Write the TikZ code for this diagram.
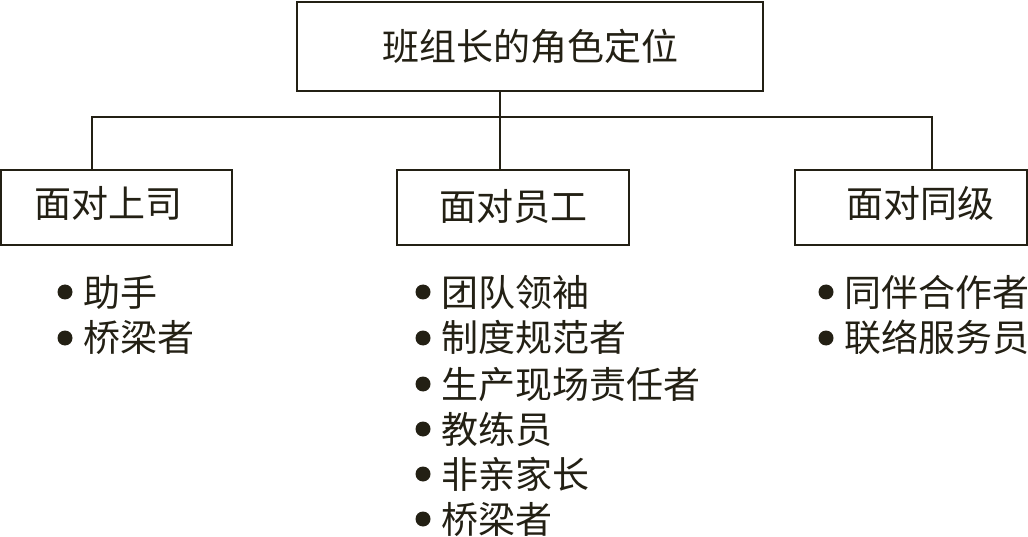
\documentclass[tikz,border=0pt]{standalone}
\usepackage{fontspec}
\newfontfamily\cjk{Noto Sans CJK SC}
\definecolor{ink}{RGB}{35,32,20}
\begin{document}
\begin{tikzpicture}[x=1pt,y=-1pt,
  every node/.style={font=\cjk\fontsize{37}{44}\selectfont, text=ink},
  box/.style={draw=ink, line width=2.6pt, inner sep=0pt, outer sep=0pt,
    text height=0.88em, text depth=0.12em},
  link/.style={draw=ink, line width=2.6pt},
  dot/.style={circle, fill=ink, inner sep=0pt, minimum size=15pt},
  item/.style={anchor=base west, inner sep=0pt}]
\useasboundingbox (0,0) rectangle (1028,537);
% boxes
\node[box, minimum width=466pt, minimum height=89pt] (top) at (530,46.5) {\raisebox{-10pt}{班组长的角色定位}};
\node[box, minimum width=231pt, minimum height=75pt] (left) at (116.5,207.5) {\raisebox{-6pt}{面对上司}\hspace*{16pt}};
\node[box, minimum width=232pt, minimum height=75pt] (mid) at (513,207.5) {\raisebox{-9pt}{面对员工}};
\node[box, minimum width=232pt, minimum height=75pt] (right) at (911,207.5) {\hspace*{18pt}\raisebox{-6pt}{面对同级}};
% connectors
\coordinate (tj) at (500,117);
\coordinate (lj) at (92,117);
\coordinate (rj) at (932,117);
\draw[link] (top.south -| tj) -- (mid.north -| tj);
\draw[link] (left.north -| lj) -- (lj) -- (rj) -- (right.north -| rj);
% left list
\node[dot] (l1) at (65,292) {};
\node[item] (lt1) at (83,306) {助手};
\node[dot] (l2) at (65,338) {};
\node[item] (lt2) at (83,352) {桥梁者};
% middle list
\node[dot] (m1) at (423,292) {};
\node[item] (mt1) at (441,306) {团队领袖};
\node[dot] (m2) at (423,338) {};
\node[item] (mt2) at (441,352) {制度规范者};
\node[dot] (m3) at (423,384) {};
\node[item] (mt3) at (441,398) {生产现场责任者};
\node[dot] (m4) at (423,429) {};
\node[item] (mt4) at (441,443) {教练员};
\node[dot] (m5) at (423,474) {};
\node[item] (mt5) at (441,488) {非亲家长};
\node[dot] (m6) at (423,519) {};
\node[item] (mt6) at (441,533) {桥梁者};
% right list
\node[dot] (r1) at (826,292) {};
\node[item] (rt1) at (844,306) {同伴合作者};
\node[dot] (r2) at (826,338) {};
\node[item] (rt2) at (844,352) {联络服务员};
\end{tikzpicture}
\end{document}
